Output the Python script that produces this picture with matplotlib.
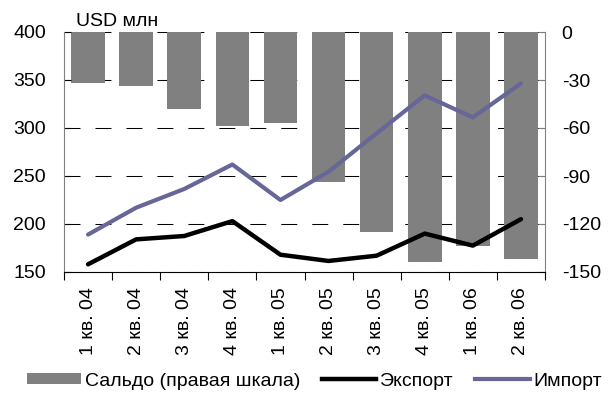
import numpy as np
import matplotlib
matplotlib.use("Agg")
import matplotlib.pyplot as plt
from matplotlib.patches import Patch
from matplotlib.lines import Line2D

plt.rcParams['font.family'] = ['Liberation Sans', 'DejaVu Sans']
plt.rcParams['axes.unicode_minus'] = False
plt.rcParams['lines.scale_dashes'] = False

quarters = ["1 кв. 04", "2 кв. 04", "3 кв. 04", "4 кв. 04", "1 кв. 05",
            "2 кв. 05", "3 кв. 05", "4 кв. 05", "1 кв. 06", "2 кв. 06"]
saldo = [-32, -33.5, -48, -59, -57, -94, -125, -144, -134, -142]
export = [158, 184, 187.5, 203, 168, 161.5, 167, 190, 177.5, 205]
imports = [189, 217, 236.5, 262, 225, 254.5, 294.5, 334, 311, 346.5]

bar_color = "#808080"
imp_color = "#666699"
fs = 14

fig = plt.figure(figsize=(6.12, 3.97), dpi=100)
fig.patch.set_facecolor("white")
ax = fig.add_axes([64 / 612, 1 - 272 / 397, 481 / 612, 240 / 397])
ax2 = ax.twinx()

x = np.arange(len(quarters))

# bars on the right scale, drawn below the lines
ax2.bar(x, saldo, width=0.7, color=bar_color, zorder=2)
ax2.set_ylim(-150, 0)
ax2.set_yticks(np.arange(-150, 1, 30))
ax2.yaxis.grid(True, color="black", linewidth=0.75, linestyle=(0, (11.5, 10.8)))
ax2.set_axisbelow(True)
ax2.tick_params(axis="y", direction="in", length=5, width=0.8, color=bar_color,
                labelsize=fs, pad=12)

ax.plot(x, export, color="black", linewidth=3.2, solid_capstyle="round")
ax.plot(x, imports, color=imp_color, linewidth=3.0, solid_capstyle="round")
ax.set_ylim(150, 400)
ax.set_yticks(np.arange(150, 401, 50))
ax.tick_params(axis="y", direction="in", length=5, width=0.8, color="black",
               labelsize=fs, pad=13)

ax.set_xlim(-0.5, len(quarters) - 0.5)
ax.set_xticks(x)
ax.set_xticklabels(quarters, rotation=90, fontsize=fs)
ax.set_xticks(np.arange(-0.5, len(quarters)), minor=True)
ax.tick_params(axis="x", which="major", length=0, pad=11)
ax.tick_params(axis="x", which="minor", length=6, width=0.8, direction="out")

ax.set_zorder(ax2.get_zorder() + 1)
ax.patch.set_visible(False)

for s in ["top", "right"]:
    ax.spines[s].set_visible(False)
ax.spines["left"].set_color(bar_color)
ax.spines["bottom"].set_color("black")
for s in ["top", "left", "bottom"]:
    ax2.spines[s].set_visible(False)
ax2.spines["right"].set_color(bar_color)

fig.text(76 / 612, 1 - 22 / 397, "USD млн", fontsize=fs, ha="left", va="center")

handles = [Patch(facecolor=bar_color, edgecolor="none"),
           Line2D([], [], color="black", linewidth=3.2),
           Line2D([], [], color=imp_color, linewidth=3.0)]
labels = ["Сальдо (правая шкала)", "Экспорт", "Импорт"]
fig.legend(handles, labels, loc="center", bbox_to_anchor=(0.514, 1 - 381 / 397),
           ncol=3, frameon=False, fontsize=fs, handlelength=2.8, handleheight=0.55,
           handletextpad=0.2, columnspacing=1.1, borderpad=0.2)

fig.savefig("out.png", dpi=100)
